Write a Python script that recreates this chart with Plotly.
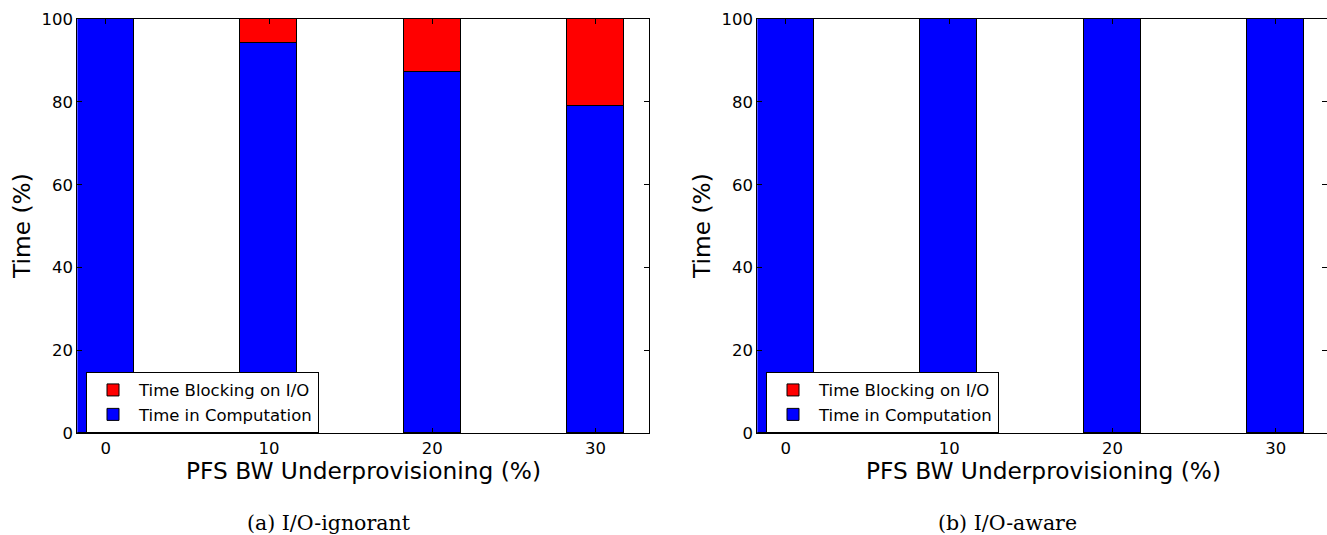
import plotly.graph_objects as go

# ---- data ----
underprov = [0, 10, 20, 30]
tick_labels = ["0", "10", "20", "30"]
ignorant_compute = [100.0, 94.3, 87.1, 79.0]
ignorant_block = [0.0, 5.7, 12.9, 21.0]
aware_compute = [100.0, 100.0, 100.0, 100.0]
aware_block = [0.0, 0.0, 0.0, 0.0]
y_ticks = [0, 20, 40, 60, 80, 100]

W, H = 1327, 535
FONT = "DejaVu Sans"
BAR_W = 3.5

def px_x(p):
    return p / W

def px_y(p):
    return 1 - p / H

fig = go.Figure()

def add_bars(xa, ya, comp, block, legend):
    fig.add_trace(go.Bar(x=underprov, y=comp, width=BAR_W, name="Time in Computation",
                         marker=dict(color="#0000ff", line=dict(color="black", width=1)),
                         xaxis=xa, yaxis=ya, legend=legend))
    fig.add_trace(go.Bar(x=underprov, y=block, width=BAR_W, name="Time Blocking on I/O",
                         marker=dict(color="#ff0000", line=dict(color="black", width=1)),
                         xaxis=xa, yaxis=ya, legend=legend))

add_bars("x", "y", ignorant_compute, ignorant_block, "legend")
add_bars("x2", "y2", aware_compute, aware_block, "legend2")

y0, y1 = px_y(433.3), px_y(19)
tickfont = dict(family=FONT, size=16.5, color="black")
common_x = dict(tickmode="array", tickvals=underprov, ticktext=tick_labels, ticks="inside",
                ticklen=5, tickcolor="black", showline=True, linecolor="black", linewidth=1,
                mirror="ticks", showgrid=False, zeroline=False, tickfont=tickfont,
                automargin=False)
common_y = dict(tickmode="array", tickvals=y_ticks, ticks="inside", ticklen=5, tickcolor="black",
                showline=True, linecolor="black", linewidth=1, showgrid=False, zeroline=False,
                range=[0, 100], tickfont=tickfont, automargin=False)

legend_common = dict(bordercolor="black", borderwidth=1, bgcolor="white",
                     font=dict(family=FONT, size=16.5, color="black"),
                     xanchor="left", yanchor="top", traceorder="reversed", itemwidth=42)

fig.update_layout(
    template="none",
    width=W, height=H, margin=dict(l=0, r=0, t=0, b=0, pad=0, autoexpand=False),
    paper_bgcolor="white", plot_bgcolor="white",
    barmode="stack", bargap=0,
    font=dict(family=FONT, color="black"),
    xaxis=dict(domain=[px_x(77.3), px_x(649)], range=[-1.75, 33.27], anchor="y", **common_x),
    yaxis=dict(domain=[y0, y1], anchor="x", mirror="ticks", **common_y),
    xaxis2=dict(domain=[px_x(757.3), 1.0], range=[-1.75, 33.14], anchor="y2", **common_x),
    yaxis2=dict(domain=[y0, y1], anchor="x2", mirror=False, **common_y),
    yaxis3=dict(overlaying="y2", anchor="free", position=1.0, side="right", range=[0, 100],
                tickmode="array", tickvals=y_ticks, ticks="inside", ticklen=5, tickcolor="black",
                showticklabels=False, showline=False, showgrid=False, zeroline=False,
                automargin=False),
    legend=dict(x=px_x(86), y=px_y(371.7), **legend_common),
    legend2=dict(x=px_x(766), y=px_y(371.7), **legend_common),
    showlegend=True,
)

# invisible trace to activate yaxis3
fig.add_trace(go.Scatter(x=[None], y=[None], xaxis="x2", yaxis="y3", showlegend=False,
                         hoverinfo="skip"))

title_font = dict(family=FONT, size=23.3, color="black")
cap_font = dict(family="DejaVu Serif", size=20.5, color="black")
ann = [
    dict(text="Time (%)", x=px_x(22), y=px_y(226), textangle=-90, font=title_font),
    dict(text="Time (%)", x=px_x(702), y=px_y(226), textangle=-90, font=title_font),
    dict(text="PFS BW Underprovisioning (%)", x=px_x(363), y=px_y(470), font=title_font),
    dict(text="PFS BW Underprovisioning (%)", x=px_x(1043), y=px_y(470), font=title_font),
    dict(text="(a) I/O-ignorant", x=px_x(329), y=px_y(523), font=cap_font),
    dict(text="(b) I/O-aware", x=px_x(1007.5), y=px_y(523), font=cap_font),
]
for a in ann:
    fig.add_annotation(xref="paper", yref="paper", showarrow=False, xanchor="center",
                       yanchor="middle", **a)

fig.write_html("out.html", config={"displayModeBar": False},
               post_script="document.body.style.margin='0px';document.body.style.overflow='hidden';")
